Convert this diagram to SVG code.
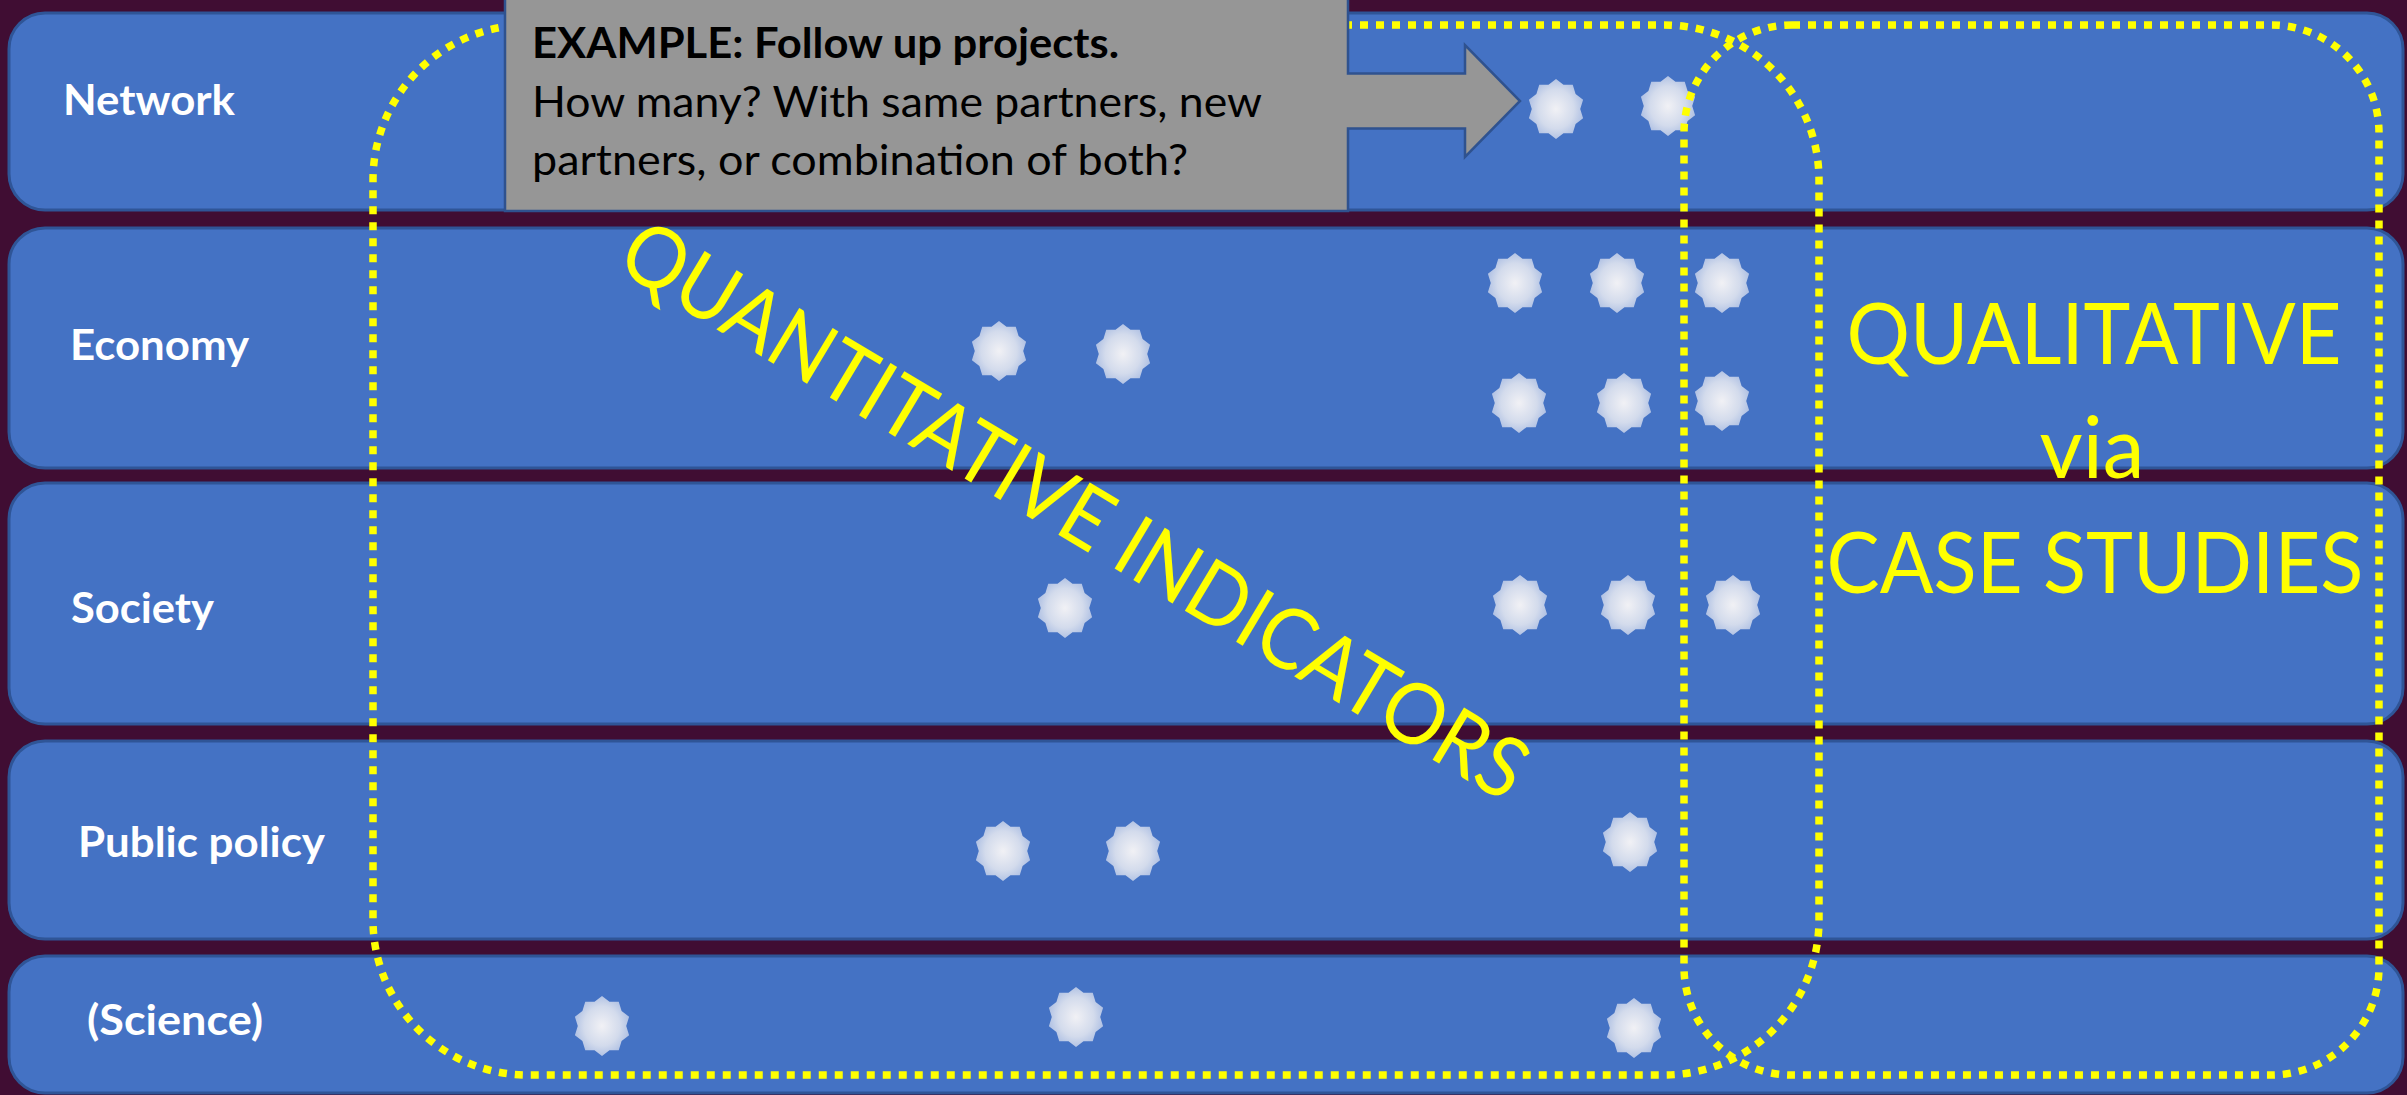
<svg xmlns="http://www.w3.org/2000/svg" width="2407" height="1095" viewBox="0 0 2407 1095">
  <defs>
    <radialGradient id="starFill" cx="50%" cy="50%" r="55%">
      <stop offset="0%" stop-color="#F1F1F5"/>
      <stop offset="60%" stop-color="#D3DBEC"/>
      <stop offset="100%" stop-color="#A9BCE2"/>
    </radialGradient>
    <!-- ten-point seal used for every marker -->
    <path id="star" d="M0,-30 L7.88,-24.25 L17.63,-24.27 L20.63,-14.99 L28.53,-9.27 L25.5,0 L28.53,9.27 L20.63,14.99 L17.63,24.27 L7.88,24.25 L0,30 L-7.88,24.25 L-17.63,24.27 L-20.63,14.99 L-28.53,9.27 L-25.5,0 L-28.53,-9.27 L-20.63,-14.99 L-17.63,-24.27 L-7.88,-24.25 Z" transform="scale(0.95,1)"/>
  </defs>
  <style>
    .row { fill: #4472C4; stroke: #2F5597; stroke-width: 3; }
    .label { font-family: Lato, "Open Sans", "Liberation Sans", sans-serif; font-weight: 700; font-size: 42px; fill: #FFFFFF; }
    .zone { fill: none; stroke: #FFFF00; stroke-width: 7.5; stroke-dasharray: 8 8; }
    .callout { fill: #969696; stroke: #2F528F; stroke-width: 2.5; }
    .ctext { font-family: Lato, "Open Sans", "Liberation Sans", sans-serif; font-size: 42px; fill: #000000; }
    .big { font-family: Lato, "Open Sans", "Liberation Sans", sans-serif; font-size: 85px; fill: #FFFF00; }
  </style>

  <!-- backdrop -->
  <rect x="0" y="0" width="2407" height="1095" fill="#400D33"/>

  <!-- impact dimensions, one band each -->
  <g id="row-network">
    <rect class="row" x="9" y="13" width="2394" height="197" rx="36"/>
    <text class="label" x="63" y="115" textLength="172" lengthAdjust="spacingAndGlyphs">Network</text>
  </g>
  <g id="row-economy">
    <rect class="row" x="9" y="228" width="2394" height="240" rx="36"/>
    <text class="label" x="70" y="360" textLength="179" lengthAdjust="spacingAndGlyphs">Economy</text>
  </g>
  <g id="row-society">
    <rect class="row" x="9" y="483" width="2394" height="241" rx="36"/>
    <text class="label" x="71" y="623" textLength="143" lengthAdjust="spacingAndGlyphs">Society</text>
  </g>
  <g id="row-public-policy">
    <rect class="row" x="9" y="741" width="2394" height="198" rx="36"/>
    <text class="label" x="78" y="857" textLength="247" lengthAdjust="spacingAndGlyphs">Public policy</text>
  </g>
  <g id="row-science">
    <rect class="row" x="9" y="956" width="2394" height="137" rx="36"/>
    <text class="label" x="87" y="1035" textLength="176" lengthAdjust="spacingAndGlyphs">(Science)</text>
  </g>

  <!-- indicator markers -->
  <g id="markers" fill="url(#starFill)">
    <use href="#star" x="1556" y="109"/>
    <use href="#star" x="1668" y="106"/>

    <use href="#star" x="1515" y="283"/>
    <use href="#star" x="1617" y="283"/>
    <use href="#star" x="1722" y="283"/>
    <use href="#star" x="999" y="351"/>
    <use href="#star" x="1123" y="354"/>
    <use href="#star" x="1519" y="403"/>
    <use href="#star" x="1624" y="403"/>
    <use href="#star" x="1722" y="401"/>

    <use href="#star" x="1065" y="608"/>
    <use href="#star" x="1520" y="605"/>
    <use href="#star" x="1628" y="605"/>
    <use href="#star" x="1733" y="605"/>

    <use href="#star" x="1003" y="851"/>
    <use href="#star" x="1133" y="851"/>
    <use href="#star" x="1630" y="842"/>

    <use href="#star" x="602" y="1026"/>
    <use href="#star" x="1076" y="1017"/>
    <use href="#star" x="1634" y="1028"/>
  </g>

  <!-- dotted zones: quantitative (left) and qualitative (right) -->
  <g id="zone-quantitative">
    <rect class="zone" x="373" y="25" width="1446" height="1050" rx="155"/>
  </g>
  <g id="zone-qualitative">
    <rect class="zone" x="1684" y="25" width="695" height="1050" rx="108"/>
  </g>

  <!-- example callout pointing at the network markers -->
  <g id="callout-example">
    <path class="callout" d="M505,-4 L1348,-4 L1348,73.5 L1465,73.5 L1465,45 L1520,101 L1465,157 L1465,128.5 L1348,128.5 L1348,211 L505,211 Z"/>
    <text class="ctext" x="532" y="58" font-weight="700" textLength="587" lengthAdjust="spacingAndGlyphs">EXAMPLE: Follow up projects.</text>
    <text class="ctext" x="532" y="117" textLength="730" lengthAdjust="spacingAndGlyphs">How many? With same partners, new</text>
    <text class="ctext" x="532" y="175" textLength="656" lengthAdjust="spacingAndGlyphs">partners, or combination of both?</text>
  </g>

  <!-- zone titles -->
  <g id="title-quantitative" transform="translate(1076,508) rotate(31)">
    <text class="big" x="0" y="32" font-size="90" text-anchor="middle" textLength="1040" lengthAdjust="spacingAndGlyphs">QUANTITATIVE INDICATORS</text>
  </g>
  <g id="title-qualitative">
    <text class="big" x="2094" y="364" text-anchor="middle" textLength="495" lengthAdjust="spacingAndGlyphs">QUALITATIVE</text>
    <text class="big" x="2092" y="478" text-anchor="middle" textLength="105" lengthAdjust="spacingAndGlyphs">via</text>
    <text class="big" x="2095" y="593" text-anchor="middle" textLength="537" lengthAdjust="spacingAndGlyphs">CASE STUDIES</text>
  </g>
</svg>
